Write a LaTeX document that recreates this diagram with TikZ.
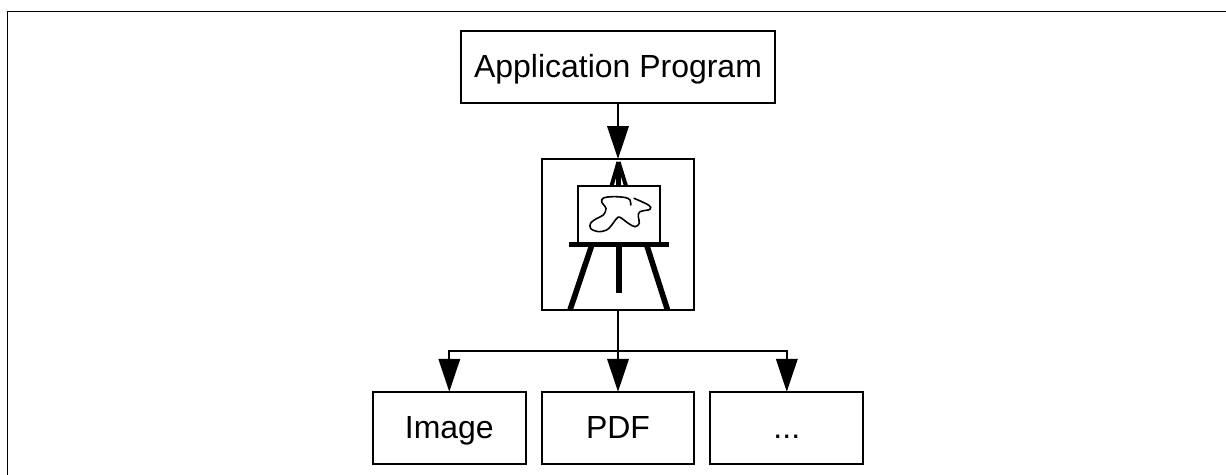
\documentclass[tikz,border=0pt]{standalone}
\usepackage{fontspec}
\setmainfont{Liberation Sans}
\usetikzlibrary{arrows.meta}
\tikzset{
    boxnode/.style={draw,line width=1.1pt,inner sep=0pt,outer sep=0pt,minimum height=1.45cm,
        text height=0.52cm,text depth=0.08cm,font=\fontsize{18.2}{20}\selectfont},
    flowline/.style={line width=1.2pt,-{Triangle[length=0.66cm,width=0.43cm]}},
    easelleg/.style={line width=2.9pt},
}
\begin{document}
\begin{tikzpicture}[x=0.02cm,y=-0.02cm]
        \useasboundingbox (0,0) rectangle (1226,475);
        %% Frame
        \draw[line width=1.1pt] (7.5,475) -- (7.5,11.5) -- (1226,11.5);
        %% Boxes
        \node[boxnode,minimum width=6.27cm] (program) at (618,67) {Application Program};
        \node[boxnode,minimum width=3.05cm,minimum height=3.02cm] (easel) at (618,234.5) {};
        \node[boxnode,minimum width=3.06cm] (image) at (449.3,428) {Image};
        \node[boxnode,minimum width=3.05cm] (pdf) at (618,428) {PDF};
        \node[boxnode,minimum width=3.06cm] (other) at (786.8,428) {...};
        %% Easel
        \node[draw,line width=1.1pt,inner sep=0pt,outer sep=0pt,minimum width=1.65cm,minimum height=1.13cm] (canvas) at (619,214.5) {};
        \coordinate (apex) at (618.5,162);
        \draw[easelleg,line width=2.3pt] (apex) -- (611.5,186);
        \draw[easelleg,line width=2.3pt] (apex) -- (618.5,186);
        \draw[easelleg,line width=2.3pt] (apex) -- (626,186);
        \draw[easelleg] (569,244.5) -- (669,244.5);
        \draw[easelleg,line width=3.2pt] (591.5,246) -- (570,310);
        \draw[easelleg,line width=3.2pt] (647,246) -- (667.5,310);
        \draw[easelleg] (619,246) -- (619,293);
        %% Sketch
        \draw[line width=0.9pt,line cap=round] plot[smooth,tension=0.6] coordinates {
            (630.7,205) (630,200) (625,197.5) (613,196.7) (603.5,198) (601.7,202) (606,208.5)
            (603.3,215) (596.7,218.5) (590.7,223) (590.7,228.5) (598.3,231.7) (606.7,230)
            (611.7,225) (616.7,218.5) (620,217.3) (628.3,223.3) (635,226.7) (639.3,223.3)
            (638.3,216.7) (640,211.7) (650,209.3) (648.3,205) (634,198.3)};
        %% Connectors
        \coordinate (bus) at (618,351);
        \draw[flowline] (program.south) -- (easel.north);
        \draw[flowline] (easel.south) -- (pdf.north);
        \draw[flowline] (bus) -| (image.north);
        \draw[flowline] (bus) -| (other.north);
    \end{tikzpicture}
\end{document}
